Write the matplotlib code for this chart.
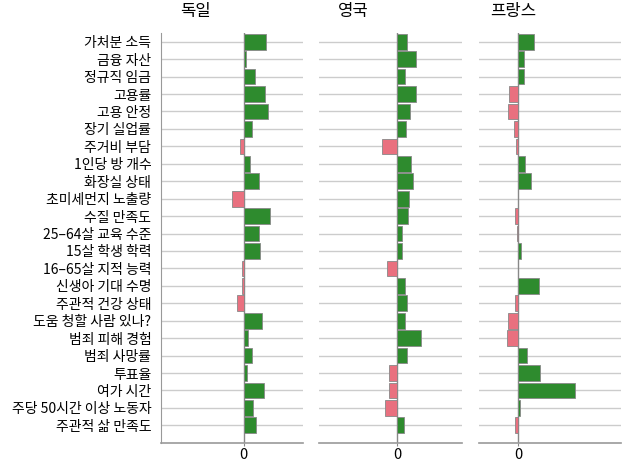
import matplotlib
matplotlib.use("Agg")
import matplotlib.pyplot as plt

plt.rcParams['font.family'] = ['Noto Sans CJK KR', 'DejaVu Sans']

categories = [
    "가처분 소득", "금융 자산", "정규직 임금", "고용률", "고용 안정",
    "장기 실업률", "주거비 부담", "1인당 방 개수", "화장실 상태", "초미세먼지 노출량",
    "수질 만족도", "25–64살 교육 수준", "15살 학생 학력", "16–65살 지적 능력",
    "신생아 기대 수명", "주관적 건강 상태", "도움 청할 사람 있나?", "범죄 피해 경험",
    "범죄 사망률", "투표율", "여가 시간", "주당 50시간 이상 노동자", "주관적 삶 만족도",
]
countries = ["독일", "영국", "프랑스"]

germany = [22.4, 2.3, 11.7, 21.3, 24.3, 8.0, -4.0, 6.3, 15.0, -11.3,
           26.7, 15.7, 16.0, -1.3, -1.7, -7.0, 18.3, 4.3, 8.0, 3.0,
           20.3, 9.7, 12.3]
uk = [10.0, 19.0, 7.7, 19.3, 12.7, 9.0, -15.3, 13.7, 16.0, 12.0,
      11.0, 5.3, 5.3, -10.3, 7.7, 9.7, 7.7, 24.0, 10.3, -8.3,
      -8.3, -12.3, 6.7]
france = [16.0, 6.0, 5.3, -9.3, -10.0, -4.0, -2.0, 7.0, 13.0, 0.0,
          -3.3, -1.5, 2.3, 0.0, 21.0, -3.0, -10.0, -11.3, 8.3, 21.7,
          56.7, 1.3, -3.7]

series = [germany, uk, france]
xlims = [(-82.5, 59.5), (-77.5, 64.5), (-39.0, 103.0)]
lefts = [0.2516, 0.4992, 0.7489]

GREEN = "#2e8b2e"
PINK = "#e9707f"

fig = plt.figure(figsize=(6.4, 4.72), dpi=100)

y = list(range(len(categories)))
for i, (name, vals) in enumerate(zip(countries, series)):
    ax = fig.add_axes([lefts[i], 0.062, 0.2219, 0.868])
    for yy in y:
        ax.axhline(yy, color="#cccccc", lw=1, zorder=0)
    colors = [GREEN if v >= 0 else PINK for v in vals]
    ax.barh(y, vals, height=0.9, color=colors, edgecolor="#888888",
            linewidth=0.6, zorder=2)
    ax.axvline(0, color="#888888", lw=1, zorder=1)
    ax.set_xlim(*xlims[i])
    ax.set_ylim(len(categories), -0.5)
    ax.set_xticks([0])
    ax.set_xticklabels(["0"], fontsize=10.5)
    ax.tick_params(axis="x", length=2, color="#888888", pad=2)
    for s in ["top", "right"]:
        ax.spines[s].set_visible(False)
    ax.spines["bottom"].set_color("#999999")
    ax.spines["bottom"].set_linewidth(1.2)
    if i == 0:
        ax.set_yticks(y)
        ax.set_yticklabels(categories, fontsize=10)
        ax.tick_params(axis="y", length=0, pad=7)
        ax.spines["left"].set_color("#999999")
    else:
        ax.set_yticks([])
        ax.spines["left"].set_visible(False)
    ax.text(0.24, 1.052, name, transform=ax.transAxes, ha="center",
            va="center", fontsize=12)

fig.savefig("out.png", dpi=100)
